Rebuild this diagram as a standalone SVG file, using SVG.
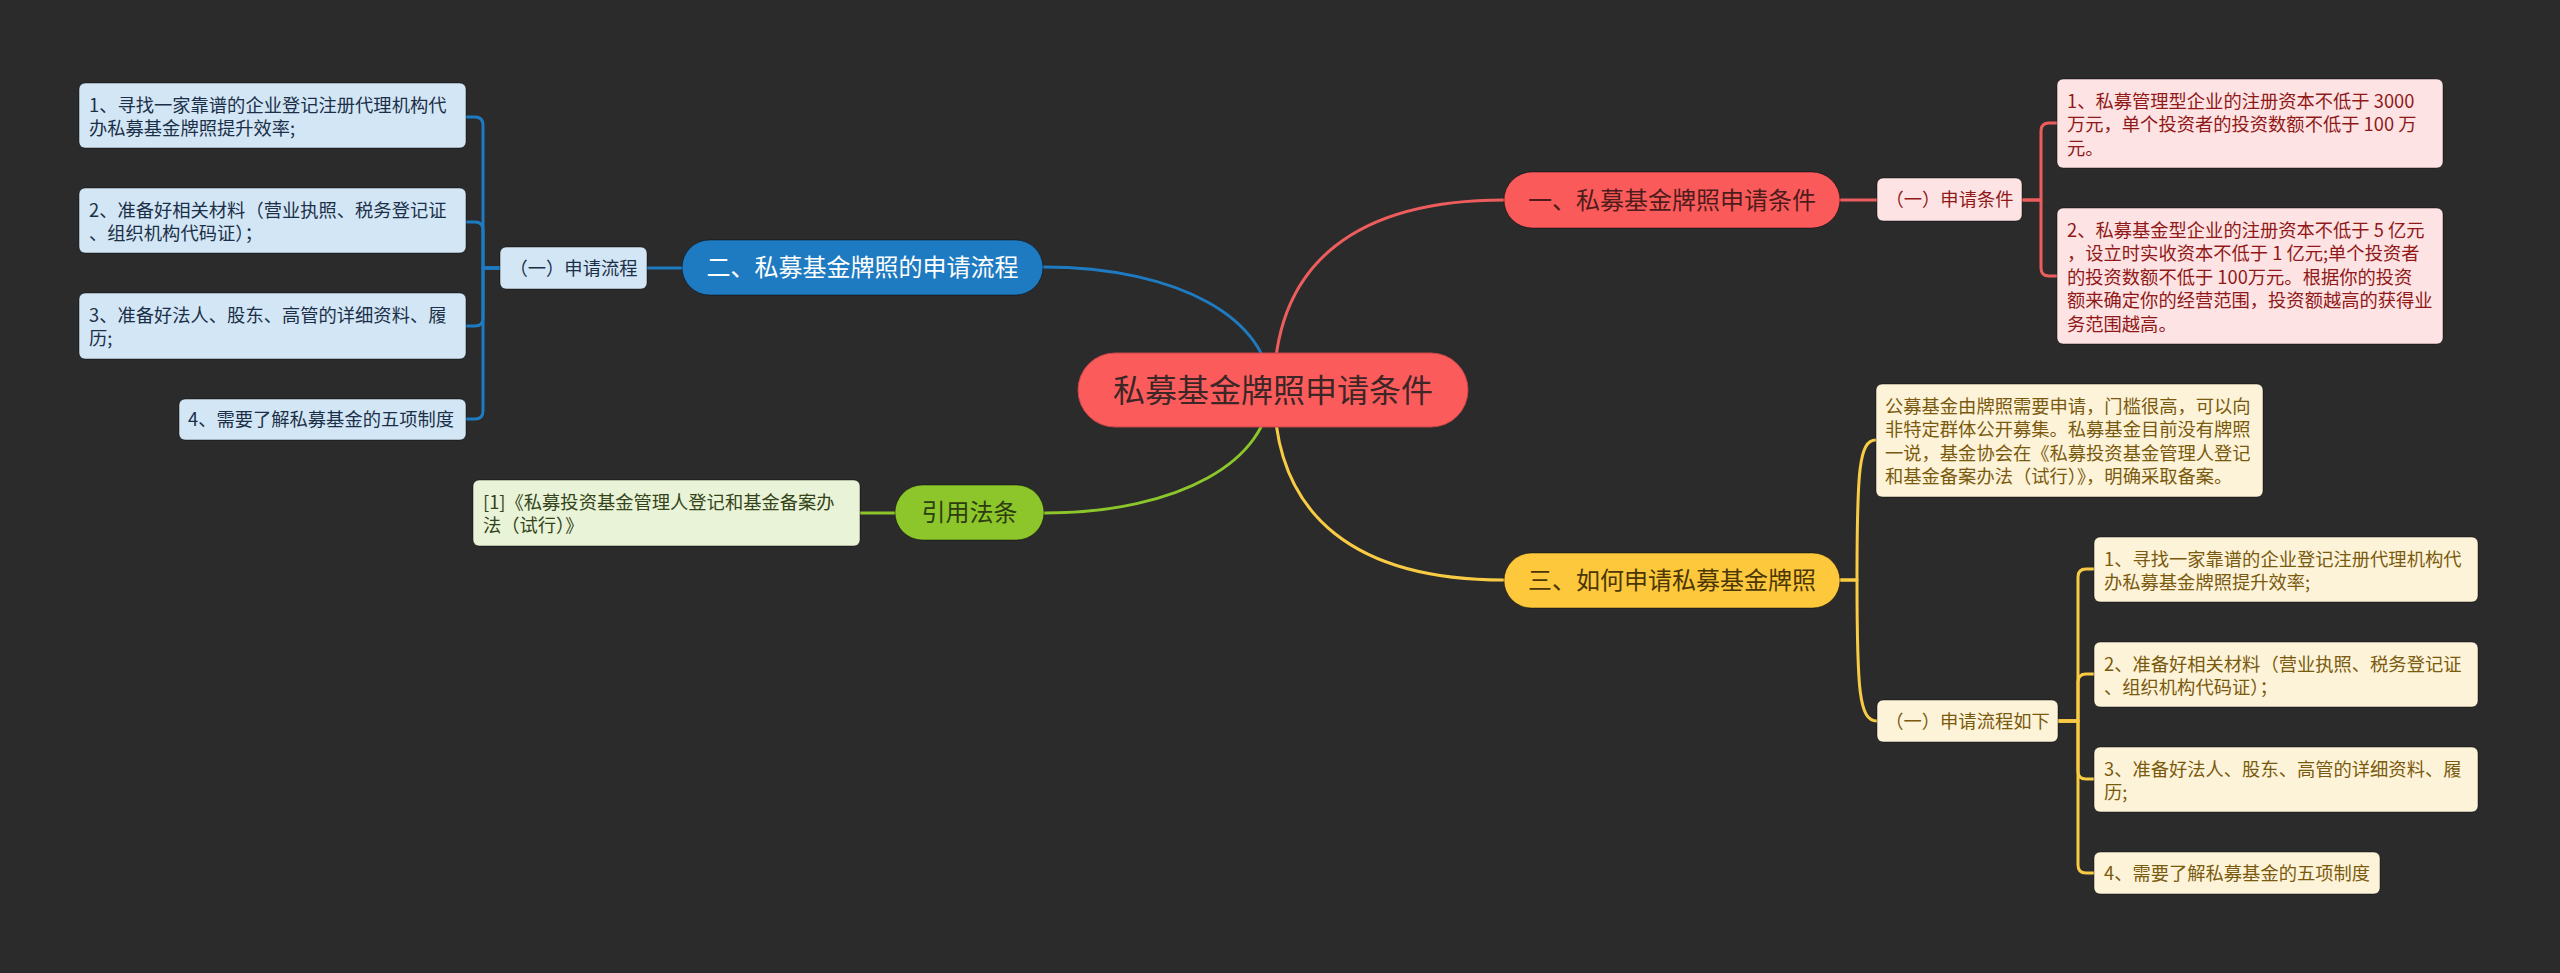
<svg xmlns="http://www.w3.org/2000/svg" width="2560" height="973" viewBox="0 0 2560 973">
<style>
text{font-family:"Noto Sans CJK SC","Microsoft YaHei","Liberation Sans",sans-serif;}
.t18{font-size:18.3px;}
.t24{font-size:24px;}
.mid{text-anchor:middle;}
.bx{stroke:rgba(0,0,0,0.45);stroke-width:1;}
.conn path{fill:none;stroke-linecap:round;stroke-linejoin:round;}
.cb{stroke:#1f7bc1;stroke-width:3;}
.cr{stroke:#ee5d5d;stroke-width:3;}
.cy{stroke:#f9cb45;stroke-width:3;}
.cg{stroke:#8cc62b;stroke-width:3;}
.blueBox{fill:#d3e6f5;}
.blueTxt{fill:#1b3048;}
.pinkBox{fill:#fde3e3;}
.pinkTxt{fill:#901818;}
.yelBox{fill:#fdf3d8;}
.yelTxt{fill:#7a5a0e;}
.grnBox{fill:#e8f3d7;}
.grnTxt{fill:#34431a;}
</style>
<rect x="0" y="0" width="2560" height="973" fill="#2b2b2b"/>

<g id="connectors" class="conn">
  <path class="cb" d="M1270 390 C1270 320 1180 267 1043 267"/>
  <path class="cr" d="M1274 390 C1274 260 1360 200 1504 200"/>
  <path class="cg" d="M1270 390 C1270 460 1180 513 1044 513"/>
  <path class="cy" d="M1274 390 C1274 520 1360 580 1504 580"/>
  <path class="cb" d="M647 268 H682"/>
  <path class="cb" d="M500 268 H483 V125 Q483 117 475 117 H466"/>
  <path class="cb" d="M500 268 H483 V230 Q483 222 475 222 H466"/>
  <path class="cb" d="M500 268 H483 V318 Q483 326 475 326 H466"/>
  <path class="cb" d="M500 268 H483 V411 Q483 419 475 419 H466"/>
  <path class="cr" d="M1840 200 H1877"/>
  <path class="cr" d="M2022 200 H2041 V131 Q2041 123 2049 123 H2057"/>
  <path class="cr" d="M2022 200 H2041 V268 Q2041 276 2049 276 H2057"/>
  <path class="cg" d="M860 513 H895"/>
  <path class="cy" d="M1840 580 H1857 C1857 470 1859 440 1876 440"/>
  <path class="cy" d="M1840 580 H1857 C1857 690 1859 721 1877 721"/>
  <path class="cy" d="M2058 721 H2078 V577 Q2078 569 2086 569 H2094"/>
  <path class="cy" d="M2058 721 H2078 V682 Q2078 674 2086 674 H2094"/>
  <path class="cy" d="M2058 721 H2078 V771 Q2078 779 2086 779 H2094"/>
  <path class="cy" d="M2058 721 H2078 V865 Q2078 873 2086 873 H2094"/>
</g>

<g id="center">
  <rect x="1078" y="353" width="390" height="74" rx="37" fill="#fc5b5c" stroke="#c84646" stroke-width="1"/>
  <text x="1273" y="401.5" class="mid" font-size="32" fill="#3d2626">私募基金牌照申请条件</text>
</g>

<g id="n-blue">
  <rect x="682" y="240" width="361" height="55" rx="27.5" fill="#1f7bc1" class="bx"/>
  <text x="862.5" y="276" class="t24 mid" fill="#ffffff">二、私募基金牌照的申请流程</text>
</g>
<g id="n-blue-sub">
  <rect x="500" y="247" width="147" height="42" rx="6" class="blueBox bx"/>
  <text x="573.5" y="274.5" class="t18 mid blueTxt">（一）申请流程</text>
</g>
<g id="n-blue-1">
  <rect x="79" y="83" width="387" height="65" rx="6" class="blueBox bx"/>
  <text class="t18 blueTxt"><tspan x="89" y="111.5">1、寻找一家靠谱的企业登记注册代理机构代</tspan><tspan x="89" y="135">办私募基金牌照提升效率;</tspan></text>
</g>
<g id="n-blue-2">
  <rect x="79" y="188" width="387" height="65" rx="6" class="blueBox bx"/>
  <text class="t18 blueTxt"><tspan x="89" y="216.5">2、准备好相关材料（营业执照、税务登记证</tspan><tspan x="89" y="240">、组织机构代码证）；</tspan></text>
</g>
<g id="n-blue-3">
  <rect x="79" y="293" width="387" height="66" rx="6" class="blueBox bx"/>
  <text class="t18 blueTxt"><tspan x="89" y="321.5">3、准备好法人、股东、高管的详细资料、履</tspan><tspan x="89" y="345">历;</tspan></text>
</g>
<g id="n-blue-4">
  <rect x="179" y="399" width="287" height="41" rx="6" class="blueBox bx"/>
  <text x="188" y="426" class="t18 blueTxt">4、需要了解私募基金的五项制度</text>
</g>

<g id="n-green">
  <rect x="895" y="485" width="149" height="55" rx="27.5" fill="#8cc62b" class="bx"/>
  <text x="969.5" y="521" class="t24 mid" fill="#2d3d0f">引用法条</text>
</g>
<g id="n-green-1">
  <rect x="473" y="480" width="387" height="66" rx="6" class="grnBox bx"/>
  <text class="t18 grnTxt"><tspan x="483" y="508.5">[1]《私募投资基金管理人登记和基金备案办</tspan><tspan x="483" y="532">法（试行）》</tspan></text>
</g>

<g id="n-red">
  <rect x="1504" y="172" width="336" height="56" rx="28" fill="#fb5a5a" class="bx"/>
  <text x="1672" y="208.6" class="t24 mid" fill="#4f1c1c">一、私募基金牌照申请条件</text>
</g>
<g id="n-red-sub">
  <rect x="1877" y="178" width="145" height="43" rx="6" class="pinkBox bx"/>
  <text x="1949.5" y="206" class="t18 mid pinkTxt">（一）申请条件</text>
</g>
<g id="n-red-1">
  <rect x="2057" y="79" width="386" height="89" rx="6" class="pinkBox bx"/>
  <text class="t18 pinkTxt"><tspan x="2067" y="107.5">1、私募管理型企业的注册资本不低于 3000</tspan><tspan x="2067" y="131">万元，单个投资者的投资数额不低于 100 万</tspan><tspan x="2067" y="154.5">元。</tspan></text>
</g>
<g id="n-red-2">
  <rect x="2057" y="208" width="386" height="136" rx="6" class="pinkBox bx"/>
  <text class="t18 pinkTxt"><tspan x="2067" y="236.5">2、私募基金型企业的注册资本不低于 5 亿元</tspan><tspan x="2067" y="260">，设立时实收资本不低于 1 亿元;单个投资者</tspan><tspan x="2067" y="283.5">的投资数额不低于 100万元。根据你的投资</tspan><tspan x="2067" y="307">额来确定你的经营范围，投资额越高的获得业</tspan><tspan x="2067" y="330.5">务范围越高。</tspan></text>
</g>

<g id="n-yellow">
  <rect x="1504" y="553" width="336" height="55" rx="27.5" fill="#fdc83b" class="bx"/>
  <text x="1672" y="589" class="t24 mid" fill="#4b3605">三、如何申请私募基金牌照</text>
</g>
<g id="n-yellow-note">
  <rect x="1876" y="384" width="387" height="113" rx="6" class="yelBox bx"/>
  <text class="t18 yelTxt"><tspan x="1885" y="412.5">公募基金由牌照需要申请，门槛很高，可以向</tspan><tspan x="1885" y="436">非特定群体公开募集。私募基金目前没有牌照</tspan><tspan x="1885" y="459.5">一说，基金协会在《私募投资基金管理人登记</tspan><tspan x="1885" y="483">和基金备案办法（试行）》，明确采取备案。</tspan></text>
</g>
<g id="n-yellow-sub">
  <rect x="1877" y="700" width="181" height="42" rx="6" class="yelBox bx"/>
  <text x="1967.5" y="727.5" class="t18 mid yelTxt">（一）申请流程如下</text>
</g>
<g id="n-yellow-1">
  <rect x="2094" y="537" width="384" height="65" rx="6" class="yelBox bx"/>
  <text class="t18 yelTxt"><tspan x="2104" y="565.5">1、寻找一家靠谱的企业登记注册代理机构代</tspan><tspan x="2104" y="589">办私募基金牌照提升效率;</tspan></text>
</g>
<g id="n-yellow-2">
  <rect x="2094" y="642" width="384" height="65" rx="6" class="yelBox bx"/>
  <text class="t18 yelTxt"><tspan x="2104" y="670.5">2、准备好相关材料（营业执照、税务登记证</tspan><tspan x="2104" y="694">、组织机构代码证）；</tspan></text>
</g>
<g id="n-yellow-3">
  <rect x="2094" y="747" width="384" height="65" rx="6" class="yelBox bx"/>
  <text class="t18 yelTxt"><tspan x="2104" y="775.5">3、准备好法人、股东、高管的详细资料、履</tspan><tspan x="2104" y="799">历;</tspan></text>
</g>
<g id="n-yellow-4">
  <rect x="2094" y="852" width="286" height="42" rx="6" class="yelBox bx"/>
  <text x="2104" y="879.5" class="t18 yelTxt">4、需要了解私募基金的五项制度</text>
</g>
</svg>
